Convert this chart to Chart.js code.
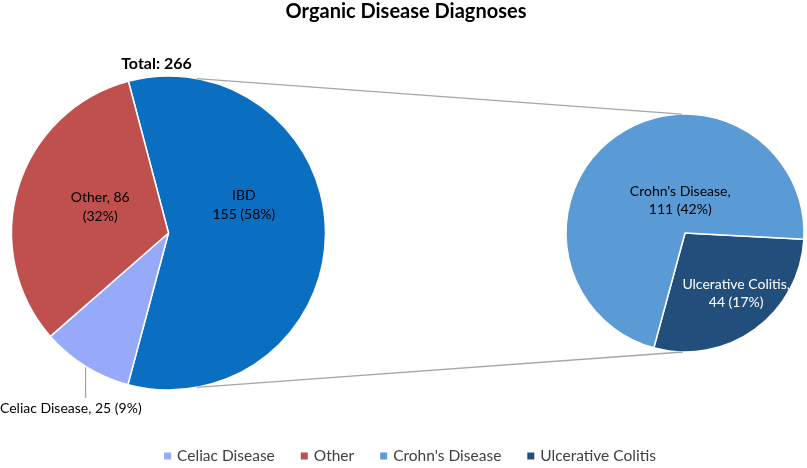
<!DOCTYPE html>
<html>
<head>
<meta charset="utf-8">
<script src="https://cdn.jsdelivr.net/npm/chart.js@4.4.1/dist/chart.umd.min.js"></script>
<style>
    html, body { margin: 0; padding: 0; background: #fff; }
    #wrap { position: relative; width: 807px; height: 468px; overflow: hidden; }
    #wrap canvas { position: absolute; left: 0; top: 0; }
</style>
</head>
<body>
<div id="wrap">
    <canvas id="left-pie" width="807" height="468"></canvas>
    <canvas id="right-pie" width="807" height="468"></canvas>
</div>
<script>
// main pie
const mainLabels = ['IBD', 'Celiac Disease', 'Other'];
const mainValues = [155, 25, 86];
const mainColors = ['#0a6fc0', '#97a9f9', '#c0504d'];

// breakdown of IBD
const ibdLabels = ['Ulcerative Colitis', "Crohn's Disease"];
const ibdValues = [44, 111];
const ibdColors = ['#214e7b', '#5b9bd5'];

const legendOrder = ['Celiac Disease', 'Other', "Crohn's Disease", 'Ulcerative Colitis'];
const chartTitle = 'Organic Disease Diagnoses';

const total = mainValues.reduce((s, v) => s + v, 0);
const pct = v => Math.round(v / total * 100) + '%';

const FONT = 'Lato, "Liberation Sans", sans-serif';
const GREY = '#a6a6a6';

let leftChart = null;

// text lines for each slice label, as Excel wrapped them
function mainLabelLines(i) {
    const v = mainValues[i], name = mainLabels[i];
    if (name === 'IBD') return [name, `${v} (${pct(v)})`];
    if (name === 'Other') return [`${name}, ${v}`, `(${pct(v)})`];
    return [`${name}, ${v} (${pct(v)})`];
}
function ibdLabelLines(i) {
    const v = ibdValues[i];
    return [`${ibdLabels[i]},`, `${v} (${pct(v)})`];
}

// offsets of label centres from pie centre, in radius units
const mainLabelPos = { 'IBD': [0.48, -0.18], 'Other': [-0.435, -0.165] };
const ibdLabelPos = { "Crohn's Disease": [-0.04, -0.27], 'Ulcerative Colitis': [0.43, 0.51] };

function pointAt(arc, deg, r) {
    const a = (deg - 90) * Math.PI / 180;
    return { x: arc.x + r * Math.cos(a), y: arc.y + r * Math.sin(a) };
}

function drawLines(ctx, lines, cx, cy, lh) {
    const top = cy - (lines.length - 1) * lh / 2;
    lines.forEach((t, k) => ctx.fillText(t, cx, top + k * lh));
}

const overlay = {
    id: 'overlay',
    afterDraw(chart) {
        if (!leftChart) return;
        const ctx = chart.ctx;
        const L = leftChart.getDatasetMeta(0).data;
        const R = chart.getDatasetMeta(0).data;
        const lc = L[0], rc = R[0];

        ctx.save();
        ctx.textBaseline = 'middle';
        ctx.fillStyle = '#000';

        // title
        ctx.textAlign = 'center';
        ctx.font = `bold 20px ${FONT}`;
        ctx.fillText(chartTitle, 406, 12);

        // connector lines between the pies
        ctx.strokeStyle = GREY;
        ctx.lineWidth = 1.3;
        const a1 = pointAt(lc, 10.4, lc.outerRadius), b1 = pointAt(rc, -1.5, rc.outerRadius);
        const a2 = pointAt(lc, 169.6, lc.outerRadius), b2 = pointAt(rc, 181, rc.outerRadius);
        ctx.beginPath();
        ctx.moveTo(a1.x, a1.y); ctx.lineTo(b1.x, b1.y);
        ctx.moveTo(a2.x, a2.y); ctx.lineTo(b2.x, b2.y);
        ctx.stroke();

        // total above main pie
        ctx.font = `bold 16px ${FONT}`;
        ctx.fillText(`Total: ${total}`, lc.x - 12, lc.y - lc.outerRadius - 12);

        // main pie labels
        ctx.font = `14px ${FONT}`;
        L.forEach((arc, i) => {
            const name = mainLabels[i];
            const lines = mainLabelLines(i);
            if (mainLabelPos[name]) {
                const [dx, dy] = mainLabelPos[name];
                drawLines(ctx, lines, arc.x + dx * arc.outerRadius, arc.y + dy * arc.outerRadius, 19);
            } else {
                // outside label with leader line
                const mid = ((arc.startAngle + arc.endAngle) / 2) * 180 / Math.PI + 90;
                const p = pointAt(arc, mid, arc.outerRadius);
                const endY = arc.y + arc.outerRadius + 8;
                ctx.beginPath();
                ctx.moveTo(p.x, p.y + 1); ctx.lineTo(p.x, endY);
                ctx.stroke();
                const w = ctx.measureText(lines[0]).width;
                ctx.textAlign = 'left';
                ctx.fillText(lines[0], Math.max(0, p.x - w), endY + 10);
                ctx.textAlign = 'center';
            }
        });

        // breakdown labels
        R.forEach((arc, i) => {
            const [dx, dy] = ibdLabelPos[ibdLabels[i]];
            ctx.fillStyle = ibdLabels[i] === 'Ulcerative Colitis' ? '#fff' : '#000';
            drawLines(ctx, ibdLabelLines(i), arc.x + dx * arc.outerRadius, arc.y + dy * arc.outerRadius, 18);
        });

        // shared legend
        const colorOf = name => {
            const i = mainLabels.indexOf(name);
            return i >= 0 ? mainColors[i] : ibdColors[ibdLabels.indexOf(name)];
        };
        ctx.font = `15.5px ${FONT}`;
        const box = 7, gap = 6, space = 26;
        const widths = legendOrder.map(n => box + gap + ctx.measureText(n).width);
        const full = widths.reduce((s, w) => s + w, 0) + space * (legendOrder.length - 1);
        let x = 410 - full / 2;
        const y = 456;
        ctx.textAlign = 'left';
        legendOrder.forEach((n, k) => {
            ctx.fillStyle = colorOf(n);
            ctx.fillRect(x, y - box / 2, box, box);
            ctx.fillStyle = '#404040';
            ctx.fillText(n, x + box + gap, y);
            x += widths[k] + space;
        });
        ctx.restore();
    }
};

const baseOptions = {
    responsive: false,
    animation: false,
    plugins: { legend: { display: false }, tooltip: { enabled: false } }
};

leftChart = new Chart(document.getElementById('left-pie'), {
    type: 'pie',
    data: {
        labels: mainLabels,
        datasets: [{ data: mainValues, backgroundColor: mainColors, borderColor: '#fff', borderWidth: 1.5 }]
    },
    options: {
        ...baseOptions,
        rotation: -14.8,
        radius: 157,
        layout: { padding: { left: 0, right: 470, top: 73, bottom: 75 } }
    }
});

new Chart(document.getElementById('right-pie'), {
    type: 'pie',
    data: {
        labels: ibdLabels,
        datasets: [{ data: ibdValues, backgroundColor: ibdColors, borderColor: '#fff', borderWidth: 1.5 }]
    },
    options: {
        ...baseOptions,
        rotation: 93,
        radius: 119,
        layout: { padding: { left: 563, right: 0, top: 111, bottom: 113 } }
    },
    plugins: [overlay]
});
</script>
</body>
</html>
